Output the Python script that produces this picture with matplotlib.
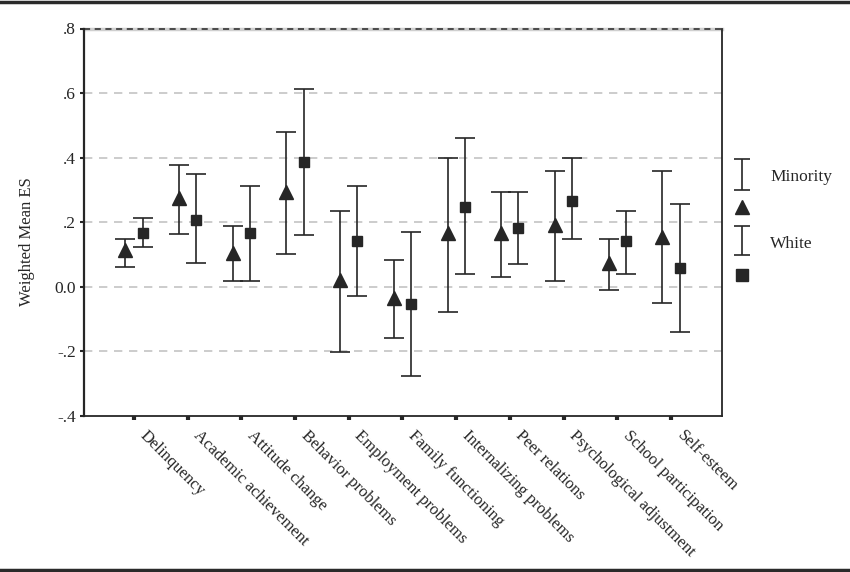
import numpy as np
import matplotlib
matplotlib.use('Agg')
import matplotlib.pyplot as plt
import matplotlib.transforms as mtransforms
from matplotlib.lines import Line2D

plt.rcParams['font.family'] = ['Liberation Serif', 'DejaVu Serif']

outcomes = ['Delinquency', 'Academic achievement', 'Attitude change',
            'Behavior problems', 'Employment problems', 'Family functioning',
            'Internalizing problems', 'Peer relations', 'Psychological adjustment',
            'School participation', 'Self-esteem']

# weighted mean effect sizes with confidence limits
minority_es = [0.112, 0.274, 0.104, 0.292, 0.021, -0.036, 0.166, 0.166, 0.190, 0.072, 0.153]
minority_lo = [0.060, 0.163, 0.019, 0.100, -0.202, -0.160, -0.080, 0.031, 0.019, -0.009, -0.051]
minority_hi = [0.149, 0.378, 0.189, 0.479, 0.235, 0.081, 0.398, 0.293, 0.357, 0.149, 0.357]

white_es = [0.166, 0.206, 0.165, 0.387, 0.141, -0.054, 0.247, 0.182, 0.266, 0.141, 0.059]
white_lo = [0.122, 0.072, 0.019, 0.161, -0.029, -0.277, 0.038, 0.071, 0.149, 0.039, -0.141]
white_hi = [0.214, 0.350, 0.313, 0.611, 0.313, 0.170, 0.461, 0.293, 0.398, 0.235, 0.256]

yticks = [-0.4, -0.2, 0.0, 0.2, 0.4, 0.6, 0.8]
ytick_labels = ['-.4', '-.2', '0.0', '.2', '.4', '.6', '.8']

ink = '#262626'
W, H = 850, 572
fig = plt.figure(figsize=(W / 100, H / 100), dpi=100)
ax = fig.add_axes([84 / W, 1 - 415.7 / H, (722 - 84) / W, (415.7 - 28.5) / H])

pos = np.arange(1, len(outcomes) + 1)
off = 0.16

m = np.array(minority_es)
w = np.array(white_es)
ax.errorbar(pos - off, m, yerr=[m - np.array(minority_lo), np.array(minority_hi) - m],
            fmt='^', color=ink, ms=10.5, capsize=7, capthick=1.2, elinewidth=1.2, zorder=3)
ax.errorbar(pos + off, w, yerr=[w - np.array(white_lo), np.array(white_hi) - w],
            fmt='s', color=ink, ms=7.5, capsize=7, capthick=1.2, elinewidth=1.2, zorder=3)

ax.set_ylim(-0.4, 0.8)
ax.set_xlim(0.07, 11.95)
ax.set_yticks(yticks)
ax.set_yticklabels(ytick_labels, fontsize=12.5, color=ink)
for y in yticks[1:-1]:
    ax.axhline(y, color='#c4c4c4', lw=1.2, ls=(0, (5, 4)), zorder=1)
ax.axhline(0.8, color='#cfcfcf', lw=2.5, zorder=1, clip_on=False)
ax.axhline(0.8, color=ink, lw=1.1, ls=(0, (4, 3)), zorder=2, clip_on=False)

ax.spines['top'].set_visible(False)
for s in ['left', 'right', 'bottom']:
    ax.spines[s].set_color(ink)
ax.spines['left'].set_linewidth(1.6)
ax.spines['right'].set_linewidth(1.3)
ax.spines['bottom'].set_linewidth(1.3)

# category labels: slanted, hanging from just right of each tick
ax.set_xticks(pos)
ax.set_xticklabels([])
lab_tr = ax.get_xaxis_transform() + mtransforms.ScaledTranslation(14 / 100, -12 / 100,
                                                                 fig.dpi_scale_trans)
for x, name in zip(pos, outcomes):
    ax.text(x, 0, name, transform=lab_tr, rotation=-45, ha='left', va='top',
            rotation_mode='anchor', fontsize=12, color=ink, clip_on=False)
ax.tick_params(axis='x', direction='out', length=3, width=3, color=ink)
ax.tick_params(axis='y', direction='out', length=3, width=1.5, color=ink, pad=3)

ax.set_ylabel('Weighted Mean ES', fontsize=12, color=ink)
ax.yaxis.set_label_coords(-0.077, 0.45)

# legend drawn in its own pixel-space axes
lax = fig.add_axes([720 / W, 1 - 300 / H, 130 / W, 160 / H])
lax.set_xlim(720, 850)
lax.set_ylim(300, 140)
lax.axis('off')
lax.errorbar([742], [174.5], yerr=[[15.5], [15.5]], fmt='none', color=ink,
             capsize=6, capthick=1.2, elinewidth=1.2)
lax.plot([742], [207], '^', color=ink, ms=10)
lax.errorbar([742], [240.5], yerr=[[14.5], [14.5]], fmt='none', color=ink,
             capsize=6, capthick=1.2, elinewidth=1.2)
lax.plot([742], [275], 's', color=ink, ms=9)
lax.text(770, 177, 'Minority', fontsize=12.5, color=ink, va='center')
lax.text(770, 244, 'White', fontsize=12.5, color=ink, va='center')

# page rules above and below the figure
fig.add_artist(Line2D([0, 1], [1 - 1.5 / H, 1 - 1.5 / H], color='#2a2a2a', lw=2.5,
                      transform=fig.transFigure))
fig.add_artist(Line2D([0, 1], [1 - 569.5 / H, 1 - 569.5 / H], color='#2a2a2a', lw=2.5,
                      transform=fig.transFigure))

fig.savefig('out.png', dpi=100)
